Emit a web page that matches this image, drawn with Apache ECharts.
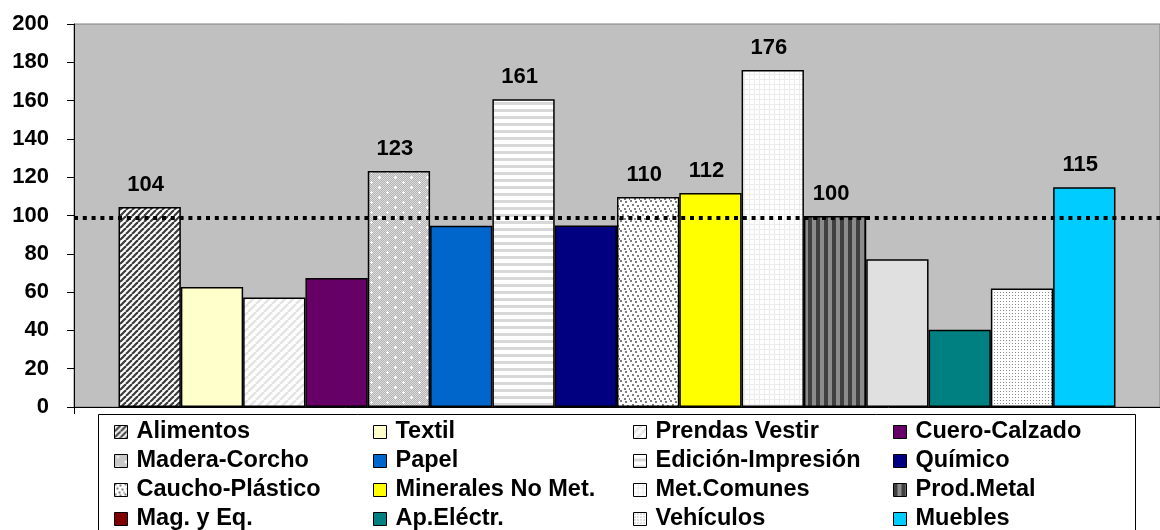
<!DOCTYPE html>
<html>
<head>
<meta charset="utf-8">
<script src="https://cdn.jsdelivr.net/npm/echarts@6/dist/echarts.min.js"></script>
<style>
  html, body { margin: 0; padding: 0; background: #fff; }
  #chart { width: 1160px; height: 530px; }
</style>
</head>
<body>
<div id="chart"></div>
<script>
// sectores y valores del indice
const sectors = [
  'Alimentos', 'Textil', 'Prendas Vestir', 'Cuero-Calzado',
  'Madera-Corcho', 'Papel', 'Edición-Impresión', 'Químico',
  'Caucho-Plástico', 'Minerales No Met.', 'Met.Comunes', 'Prod.Metal',
  'Mag. y Eq.', 'Ap.Eléctr.', 'Vehículos', 'Muebles'
]
const values = [104.4, 62.7, 57.2, 67.3, 123.3, 94.6, 160.7, 94.8, 109.7, 111.7, 176, 99.7, 77.2, 40.3, 61.9, 114.8]
const refLine = 98.8
const yTicks = { min: 0, max: 200, step: 20 }

const FONT = '"Liberation Sans", Arial, sans-serif'

// small canvas tiles for the hatched fills
const tile = (w, h, draw) => {
  const c = document.createElement('canvas')
  c.width = w
  c.height = h
  const g = c.getContext('2d')
  g.fillStyle = '#fff'
  g.fillRect(0, 0, w, h)
  draw(g)
  return { image: c, repeat: 'repeat' }
}

const diag = (size, color, lw) => tile(size, size, g => {
  g.strokeStyle = color
  g.lineWidth = lw
  for (let k = -1; k <= 1; k++) {
    g.beginPath()
    g.moveTo(k * size, size)
    g.lineTo(k * size + size, 0)
    g.stroke()
  }
})

const fills = [
  diag(6, '#3c3c3c', 2.2),
  '#ffffcc',
  diag(8, '#e4e4e4', 2.5),
  '#660066',
  tile(16, 10, g => {
    for (let y = 0; y < 10; y++) for (let x = 0; x < 16; x++) {
      g.fillStyle = (x + y) % 2 ? '#b4b4b4' : '#dcdcdc'
      g.fillRect(x, y, 1, 1)
    }
    g.fillStyle = '#fff'
    ;[[3, 2], [11, 7]].forEach(([x, y]) => {
      g.fillRect(x - 1, y, 3, 1)
      g.fillRect(x, y - 1, 1, 3)
    })
  }),
  '#0066cc',
  tile(4, 7, g => {
    g.fillStyle = '#d8d8d8'
    g.fillRect(0, 4, 4, 3)
  }),
  '#000080',
  tile(10, 10, g => {
    g.fillStyle = '#7c7c7c'
    ;[[0, 0], [5, 1], [2, 4], [7, 5], [4, 8], [9, 8]].forEach(([x, y]) => g.fillRect(x, y, 2, 2))
  }),
  '#ffff00',
  tile(5, 5, g => {
    g.fillStyle = '#ececec'
    g.fillRect(0, 4, 5, 1)
    g.fillRect(4, 0, 1, 5)
  }),
  tile(8, 1, g => {
    g.fillStyle = '#404040'
    g.fillRect(0, 0, 4, 1)
    g.fillStyle = '#8c8c8c'
    g.fillRect(4, 0, 4, 1)
  }),
  '#e0e0e0',
  '#008080',
  tile(3, 3, g => {
    g.fillStyle = '#8a8a8a'
    g.fillRect(1, 1, 1, 1)
  }),
  '#00ccff'
]
// legend swatch differs from the bar for this one in the original
const legendOverride = { 'Mag. y Eq.': '#800000' }

const series = sectors.map((name, i) => ({
  name,
  type: 'bar',
  barGap: '0%',
  barCategoryGap: '8.2%',
  data: [values[i]],
  itemStyle: { color: fills[i], borderColor: '#000', borderWidth: 1.5 },
  label: {
    show: Math.round(values[i]) >= 100,
    position: 'top',
    distance: 11,
    offset: [-4, 0],
    formatter: p => Math.round(p.value),
    color: '#000',
    fontFamily: FONT,
    fontWeight: 'bold',
    fontSize: 22
  },
  markLine: i === sectors.length - 1 ? {
    silent: true,
    symbol: 'none',
    label: { show: false },
    lineStyle: { color: '#000', width: 4, type: [4, 4.8], cap: 'butt' },
    data: [{ yAxis: refLine }]
  } : undefined
}))

const colX = [114, 373, 633, 893]
const legends = colX.map((x, c) => ({
  orient: 'vertical',
  left: x,
  top: 420,
  width: 250,
  height: 200,
  padding: 0,
  itemGap: 5,
  itemWidth: 13,
  itemHeight: 13,
  icon: 'rect',
  selectedMode: false,
  itemStyle: { borderColor: '#000', borderWidth: 1 },
  textStyle: { color: '#000', fontFamily: FONT, fontWeight: 'bold', fontSize: 23.5, lineHeight: 22, padding: [0, 0, 0, 4] },
  data: [0, 1, 2, 3].map(r => {
    const name = sectors[c + r * 4]
    return legendOverride[name] ? { name, itemStyle: { color: legendOverride[name] } } : { name }
  })
}))

const chart = echarts.init(document.getElementById('chart'))
chart.setOption({
  animation: false,
  backgroundColor: '#fff',
  grid: {
    left: 74, right: -9, top: 24, bottom: 123,
    show: true, backgroundColor: '#c0c0c0', borderColor: '#808080', borderWidth: 1
  },
  legend: legends,
  graphic: [{
    type: 'rect',
    z: -1,
    shape: { x: 98.5, y: 414.5, width: 1037, height: 150 },
    style: { fill: '#fff', stroke: '#000', lineWidth: 1 }
  }],
  xAxis: {
    type: 'category',
    data: [''],
    axisLine: { lineStyle: { color: '#000', width: 1 } },
    axisTick: { show: true, length: 7, lineStyle: { color: '#000' } },
    axisLabel: { show: false },
    splitLine: { show: false }
  },
  yAxis: {
    type: 'value',
    min: yTicks.min,
    max: yTicks.max,
    interval: yTicks.step,
    axisLine: { show: true, lineStyle: { color: '#000', width: 1 } },
    axisTick: { show: true, length: 7, lineStyle: { color: '#000' } },
    axisLabel: { color: '#000', fontFamily: FONT, fontWeight: 'bold', fontSize: 22, margin: 25 },
    splitLine: { show: false }
  },
  series
})
</script>
</body>
</html>
